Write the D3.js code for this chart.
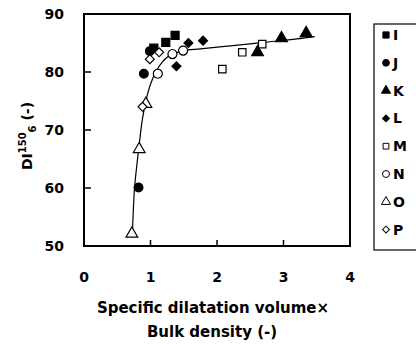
<!DOCTYPE html>
<html>
<head>
<meta charset="utf-8">
<script src="https://cdn.jsdelivr.net/npm/d3@7"></script>
<style>
  body { margin: 0; background: #fff; }
  text { font-family: "DejaVu Sans", sans-serif; font-weight: bold; fill: #000; }
</style>
</head>
<body>
<div id="chart"></div>
<script>
// values
const seriesNames = ['I', 'J', 'K', 'L', 'M', 'N', 'O', 'P'];
const seriesI = [[1.05, 84.1], [1.23, 85.1], [1.37, 86.3]];
const seriesJ = [[0.82, 60.1], [0.90, 79.7], [0.99, 83.6]];
const seriesK = [[2.61, 83.4], [2.97, 85.8], [3.34, 86.7]];
const seriesL = [[1.39, 81.0], [1.57, 85.0], [1.79, 85.4]];
const seriesM = [[2.08, 80.5], [2.38, 83.4], [2.68, 84.8]];
const seriesN = [[1.11, 79.7], [1.33, 83.1], [1.49, 83.7]];
const seriesO = [[0.72, 52.1], [0.83, 66.7], [0.93, 74.5]];
const seriesP = [[0.88, 74.0], [0.99, 82.2], [1.13, 83.4]];
// fitted curve
const fitX = [0.73, 0.76, 0.80, 0.84, 0.88, 0.93, 1.00, 1.08, 1.17, 1.27, 1.38, 1.50, 1.75, 2.20, 2.70, 3.20, 3.47];
const fitY = [52.8, 60.0, 64.5, 68.5, 72.0, 75.0, 77.9, 80.0, 81.6, 82.7, 83.3, 83.7, 84.0, 84.5, 85.1, 85.7, 86.1];
const xTicks = [0, 1, 2, 3, 4];
const yTicks = [50, 60, 70, 80, 90];

const width = 416, height = 344;
const plotL = 84, plotR = 350, plotT = 14, plotB = 246;

const svg = d3.select('#chart').append('svg')
  .attr('width', width)
  .attr('height', height);

const x = d3.scaleLinear().domain([0, 4]).range([plotL, plotR]);
const y = d3.scaleLinear().domain([50, 90]).range([plotB, plotT]);

// frame
svg.append('rect')
  .attr('x', plotL).attr('y', plotT)
  .attr('width', plotR - plotL).attr('height', plotB - plotT)
  .attr('fill', 'none').attr('stroke', '#000').attr('stroke-width', 2);

// inward ticks
svg.selectAll('line.xt').data(xTicks.slice(1, -1)).enter().append('line')
  .attr('x1', d => x(d)).attr('x2', d => x(d))
  .attr('y1', plotB).attr('y2', plotB - 6)
  .attr('stroke', '#000').attr('stroke-width', 1.5);
svg.selectAll('line.yt').data(yTicks.slice(1, -1)).enter().append('line')
  .attr('x1', plotL).attr('x2', plotL + 7)
  .attr('y1', d => y(d)).attr('y2', d => y(d))
  .attr('stroke', '#000').attr('stroke-width', 1.5);

svg.selectAll('text.xl').data(xTicks).enter().append('text')
  .attr('x', d => x(d)).attr('y', 282)
  .attr('text-anchor', 'middle').style('font-size', '14px')
  .text(d => d);
svg.selectAll('text.yl').data(yTicks).enter().append('text')
  .attr('x', 64).attr('y', d => y(d) + 5)
  .attr('text-anchor', 'end').style('font-size', '14px')
  .text(d => d);

// axis titles
svg.append('text').attr('x', 213).attr('y', 313)
  .attr('text-anchor', 'middle').style('font-size', '15px')
  .text('Specific dilatation volume×');
svg.append('text').attr('x', 212).attr('y', 337)
  .attr('text-anchor', 'middle').style('font-size', '15px')
  .text('Bulk density (-)');

const yt = svg.append('text')
  .attr('transform', 'translate(32,136) rotate(-90)')
  .attr('text-anchor', 'middle').style('font-size', '14px');
yt.append('tspan').text('DI');
yt.append('tspan').attr('dy', -6).style('font-size', '10px').text('150');
yt.append('tspan').attr('dy', 10).style('font-size', '10px').text('6');
yt.append('tspan').attr('dy', -4).text(' (-)');

// fitted curve
const line = d3.line()
  .x(d => x(d[0])).y(d => y(d[1]))
  .curve(d3.curveCatmullRom);
svg.append('path')
  .datum(fitX.map((v, i) => [v, fitY[i]]))
  .attr('d', line)
  .attr('fill', 'none').attr('stroke', '#000').attr('stroke-width', 1.2);

// diamonds are squares turned 45 degrees
const shapes = {
  I: { type: d3.symbolSquare, fill: true, size: 64, rot: 0 },
  J: { type: d3.symbolCircle, fill: true, size: 60, rot: 0 },
  K: { type: d3.symbolTriangle, fill: true, size: 60, rot: 0 },
  L: { type: d3.symbolSquare, fill: true, size: 40, rot: 45 },
  M: { type: d3.symbolSquare, fill: false, size: 55, rot: 0 },
  N: { type: d3.symbolCircle, fill: false, size: 64, rot: 0 },
  O: { type: d3.symbolTriangle, fill: false, size: 60, rot: 0 },
  P: { type: d3.symbolSquare, fill: false, size: 40, rot: 45 }
};
const allSeries = [seriesI, seriesJ, seriesK, seriesL, seriesM, seriesN, seriesO, seriesP];

seriesNames.forEach((name, i) => {
  const s = shapes[name];
  svg.selectAll('path.p' + name).data(allSeries[i]).enter().append('path')
    .attr('transform', d => 'translate(' + x(d[0]) + ',' + y(d[1]) + ') rotate(' + s.rot + ')')
    .attr('d', d3.symbol().type(s.type).size(s.size))
    .attr('fill', s.fill ? '#000' : '#fff')
    .attr('stroke', '#000').attr('stroke-width', 1.2);
});

// legend
svg.append('rect')
  .attr('x', 374).attr('y', 24).attr('width', 60).attr('height', 226)
  .attr('fill', 'none').attr('stroke', '#000').attr('stroke-width', 1.2);
seriesNames.forEach((name, i) => {
  const s = shapes[name];
  const ly = 35 + i * 27.8;
  svg.append('path')
    .attr('transform', 'translate(386,' + ly + ') rotate(' + s.rot + ')')
    .attr('d', d3.symbol().type(s.type).size(s.size * 0.6))
    .attr('fill', s.fill ? '#000' : '#fff')
    .attr('stroke', '#000').attr('stroke-width', 1);
  svg.append('text').attr('x', 393).attr('y', ly + 5)
    .style('font-size', '14px').text(name);
});
</script>
</body>
</html>
